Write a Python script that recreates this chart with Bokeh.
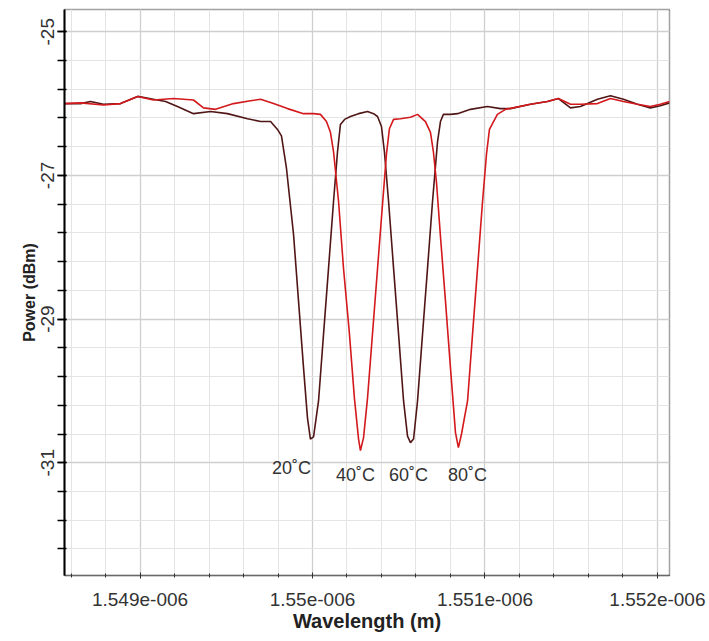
import numpy as np
from bokeh.plotting import figure
from bokeh.models import FixedTicker, CustomJSTickFormatter, Range1d
from bokeh.embed import file_html
from bokeh.resources import INLINE
from bokeh.core.properties import value

# ---- data (wavelength in nm, power in dBm) ----
# dark trace: 20 C and 60 C notches
wl_dark = [1548.562, 1548.655, 1548.713, 1548.788, 1548.887, 1548.986, 1549.078,
           1549.148, 1549.217, 1549.310, 1549.409, 1549.507, 1549.623, 1549.699,
           1549.757, 1549.797, 1549.820, 1549.849, 1549.890, 1549.919, 1549.948,
           1549.971, 1549.988, 1550.006, 1550.035, 1550.064, 1550.093, 1550.122,
           1550.145, 1550.162, 1550.186, 1550.220, 1550.267, 1550.319, 1550.354,
           1550.377, 1550.400, 1550.417, 1550.441, 1550.470, 1550.499, 1550.528,
           1550.551, 1550.568, 1550.586, 1550.609, 1550.638, 1550.667, 1550.696,
           1550.725, 1550.742, 1550.759, 1550.800, 1550.841, 1550.916, 1551.014,
           1551.090, 1551.148, 1551.264, 1551.362, 1551.426, 1551.496, 1551.554,
           1551.652, 1551.728, 1551.803, 1551.884, 1551.959, 1552.017, 1552.070]
pw_dark = [-26.00, -26.00, -25.97, -26.01, -26.00, -25.90, -25.94,
           -25.97, -26.04, -26.14, -26.11, -26.14, -26.21, -26.25,
           -26.25, -26.36, -26.45, -26.90, -27.82, -28.75, -29.68,
           -30.38, -30.67, -30.64, -30.14, -29.21, -28.29, -27.36,
           -26.67, -26.29, -26.22, -26.18, -26.14, -26.11, -26.14,
           -26.18, -26.32, -26.67, -27.36, -28.29, -29.21, -30.14,
           -30.63, -30.72, -30.67, -30.14, -29.21, -28.29, -27.36,
           -26.53, -26.25, -26.15, -26.15, -26.14, -26.08, -26.04,
           -26.07, -26.07, -26.01, -25.97, -25.93, -26.06, -26.04,
           -25.94, -25.89, -25.94, -26.01, -26.06, -26.03, -25.99]

# red trace: 40 C and 80 C notches
wl_red = [1548.562, 1548.655, 1548.788, 1548.887, 1548.986, 1549.078, 1549.194,
          1549.310, 1549.368, 1549.438, 1549.542, 1549.641, 1549.699, 1549.774,
          1549.855, 1549.948, 1550.006, 1550.046, 1550.081, 1550.104, 1550.122,
          1550.151, 1550.180, 1550.214, 1550.243, 1550.267, 1550.278, 1550.296,
          1550.319, 1550.348, 1550.377, 1550.406, 1550.429, 1550.446, 1550.470,
          1550.510, 1550.568, 1550.609, 1550.655, 1550.684, 1550.701, 1550.719,
          1550.742, 1550.771, 1550.800, 1550.829, 1550.846, 1550.864, 1550.899,
          1550.928, 1550.957, 1550.986, 1551.009, 1551.026, 1551.072, 1551.119,
          1551.264, 1551.362, 1551.426, 1551.496, 1551.554, 1551.652, 1551.728,
          1551.803, 1551.884, 1551.959, 1552.017, 1552.070]
pw_red = [-26.00, -25.99, -26.02, -26.00, -25.90, -25.95, -25.93,
          -25.95, -26.06, -26.08, -26.00, -25.96, -25.94, -26.00,
          -26.07, -26.14, -26.14, -26.15, -26.25, -26.40, -26.67,
          -27.36, -28.30, -29.20, -30.10, -30.67, -30.83, -30.65,
          -30.10, -29.20, -28.30, -27.40, -26.70, -26.35, -26.22,
          -26.21, -26.19, -26.15, -26.25, -26.40, -26.67, -27.10,
          -27.85, -28.75, -29.68, -30.58, -30.79, -30.60, -30.14,
          -29.21, -28.29, -27.36, -26.70, -26.36, -26.15, -26.08,
          -26.01, -25.97, -25.93, -26.01, -26.01, -26.00, -25.93,
          -25.97, -26.01, -26.04, -26.01, -25.97]

temp_labels = ["20\u02daC", "40\u02daC", "60\u02daC", "80\u02daC"]
label_wl = [1549.878, 1550.249, 1550.557, 1550.899]
label_pw = [-31.07, -31.17, -31.17, -31.17]

x_ticks_nm = [1549, 1550, 1551, 1552]
y_ticks = [-25, -27, -29, -31]

NM = 1e-9
p = figure(output_backend="svg", toolbar_location=None,
           frame_width=605, frame_height=566,
           min_border_left=64, min_border_right=40,
           min_border_top=9, min_border_bottom=66,
           x_range=Range1d(1548.562 * NM, 1552.070 * NM),
           y_range=Range1d(-32.57, -24.69),
           background_fill_color="white", border_fill_color="white")

p.line([w * NM for w in wl_dark], pw_dark, line_color="#501616", line_width=1.6)
p.line([w * NM for w in wl_red], pw_red, line_color="#d3191c", line_width=1.6)

p.text(x=[w * NM for w in label_wl], y=label_pw, text=temp_labels,
       text_align="center", text_baseline="middle",
       text_font=value("Liberation Sans"), text_font_size="18px",
       text_color="#333333")

# axes / ticks
xminor = [round(v, 1) * NM for v in np.arange(1548.6, 1552.05, 0.2)]
yminor = [round(v, 1) for v in np.arange(-32.6, -24.55, 0.4)]
p.xaxis.ticker = FixedTicker(ticks=[t * NM for t in x_ticks_nm], minor_ticks=xminor)
p.yaxis.ticker = FixedTicker(ticks=y_ticks, minor_ticks=yminor)
p.xaxis.formatter = CustomJSTickFormatter(
    code="return (Math.round(tick*1e9)/1000).toString() + 'e-006';")
p.yaxis.formatter = CustomJSTickFormatter(code="return tick.toString();")

p.xaxis.axis_label = "Wavelength (m)"
p.yaxis.axis_label = "Power (dBm)"
for ax in (p.xaxis[0], p.yaxis[0]):
    ax.axis_label_text_font = "Liberation Sans"
    ax.axis_label_text_font_style = "bold"
    ax.axis_label_text_color = "#222222"
    ax.major_label_text_font = "Liberation Sans"
    ax.major_label_text_font_size = "19px"
    ax.major_label_text_color = "#333333"
p.xaxis.axis_label_text_font_size = "20px"
p.yaxis.axis_label_text_font_size = "16px"

p.yaxis.major_label_orientation = "vertical"
p.yaxis.axis_line_color = "black"
p.yaxis.axis_line_width = 2
p.yaxis.major_tick_out = 7
p.yaxis.major_tick_in = 2
p.yaxis.minor_tick_out = 7
p.yaxis.minor_tick_in = 2
p.yaxis.major_tick_line_width = 1.5
p.yaxis.minor_tick_line_width = 1.5
p.yaxis.major_tick_line_color = "black"
p.yaxis.minor_tick_line_color = "black"
p.yaxis.major_label_standoff = 3
p.yaxis.axis_label_standoff = 1

p.xaxis.axis_line_dash = "1 1"
p.xaxis.axis_line_color = "#333333"
p.xaxis.axis_line_width = 1.5
p.xaxis.major_tick_out = 3
p.xaxis.major_tick_in = 3
p.xaxis.minor_tick_out = 2
p.xaxis.minor_tick_in = 2
p.xaxis.major_tick_line_color = "#333333"
p.xaxis.minor_tick_line_color = "#333333"
p.xaxis.major_label_standoff = 14
p.xaxis.axis_label_standoff = 1

# grid
for g in (p.xgrid[0], p.ygrid[0]):
    g.grid_line_color = "#cfcfcf"
    g.grid_line_width = 1.3
    g.minor_grid_line_color = "#e4e4e4"
    g.minor_grid_line_width = 1

p.outline_line_color = "#444444"
p.outline_line_dash = "1 1"
p.outline_line_width = 1.5

open("out.html", "w").write(file_html(p, INLINE))
